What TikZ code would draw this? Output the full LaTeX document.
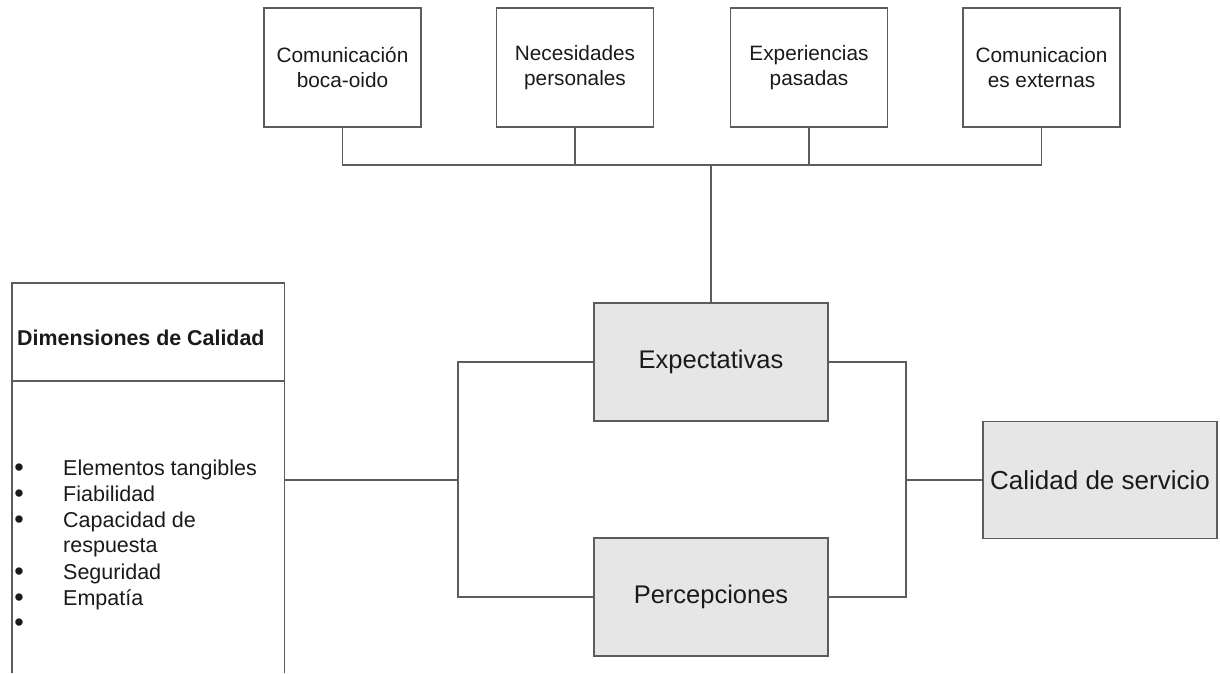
\documentclass[tikz,border=0pt]{standalone}
\usepackage{fontspec}
\setmainfont{Liberation Sans}
\definecolor{ln}{HTML}{5C5C5C}
\definecolor{fl}{HTML}{E6E6E6}
\definecolor{tx}{HTML}{1A1A1A}
\begin{document}
\begin{tikzpicture}[x=1pt,y=-1pt,
  topbox/.style={draw=ln, line width=1.8pt, fill=white, minimum width=157pt, minimum height=119pt, align=center, font=\fontsize{20.8}{25}\selectfont, text=tx, inner sep=0pt},
  graybox/.style={draw=ln, line width=1.8pt, fill=fl, text=tx, inner sep=0pt, minimum width=234pt, minimum height=118pt},
  conn/.style={draw=ln, line width=1.8pt},
  item/.style={anchor=base west, font=\fontsize{21.5}{25}\selectfont, text=tx, inner sep=0pt},
  bul/.style={anchor=base, font=\fontsize{27}{25}\selectfont, text=tx, inner sep=0pt}]
\useasboundingbox (0,0) rectangle (1220,673);
\fill[white] (0,0) rectangle (1220,673);

% top boxes
\node[topbox] (c1) at (342.5,67.5) {Comunicación\\boca-oido};
\node[topbox] (c2) at (575,67.5) {Necesidades\\personales};
\node[topbox] (c3) at (809,67.5) {Experiencias\\pasadas};
\node[topbox] (c4) at (1041.5,67.5) {Comunicacion\\es externas};

% middle boxes
\node[graybox, font=\fontsize{25.5}{30}\selectfont] (exp) at (711,362) {Expectativas};
\node[graybox, font=\fontsize{25.5}{30}\selectfont] (per) at (711,597) {Percepciones};
\node[graybox, minimum height=117pt, font=\fontsize{26}{30}\selectfont] (cal) at (1100,480) {Calidad de servicio};

% dimensions box
\node[minimum width=272pt, minimum height=390pt, inner sep=0pt, anchor=north west] (dim) at (12,283) {};
\coordinate (dv) at (0,381);
\draw[conn] (dim.south west) -- (dim.north west) -- (dim.north east) -- (dim.south east);
\draw[conn] (dim.west |- dv) -- (dim.east |- dv);
\node[anchor=base west, font=\bfseries\fontsize{21.4}{25}\selectfont, text=tx, inner sep=0pt] (title) at (17,345) {Dimensiones de Calidad};

\node[bul] (b1) at (19,476) {\textbullet};
\node[bul] (b2) at (19,502) {\textbullet};
\node[bul] (b3) at (19,528) {\textbullet};
\node[bul] (b5) at (19,580) {\textbullet};
\node[bul] (b6) at (19,606) {\textbullet};
\node[bul] (b7) at (19,631) {\textbullet};
\node[item] (i1) at (63,475) {Elementos tangibles};
\node[item] (i2) at (63,501) {Fiabilidad};
\node[item] (i3) at (63,527) {Capacidad de};
\node[item] (i4) at (63,552) {respuesta};
\node[item] (i5) at (63,579) {Seguridad};
\node[item] (i6) at (63,605) {Empatía};

% top connectors
\coordinate (bus) at (711,165);
\draw[conn] (c1.south) -- (c1.south |- bus) -- (c4.south |- bus) -- (c4.south);
\draw[conn] (c2.south) -- (c2.south |- bus);
\draw[conn] (c3.south) -- (c3.south |- bus);
\draw[conn] (exp.north) -- (exp.north |- bus);

% left bracket
\coordinate (lj) at (458,480);
\draw[conn] (exp.west) -- (exp.west -| lj) -- (per.west -| lj) -- (per.west);
\draw[conn] (dim.east |- lj) -- (lj);

% right bracket
\coordinate (rj) at (906,480);
\draw[conn] (exp.east) -- (exp.east -| rj) -- (per.east -| rj) -- (per.east);
\draw[conn] (rj) -- (cal.west);
\end{tikzpicture}
\end{document}
